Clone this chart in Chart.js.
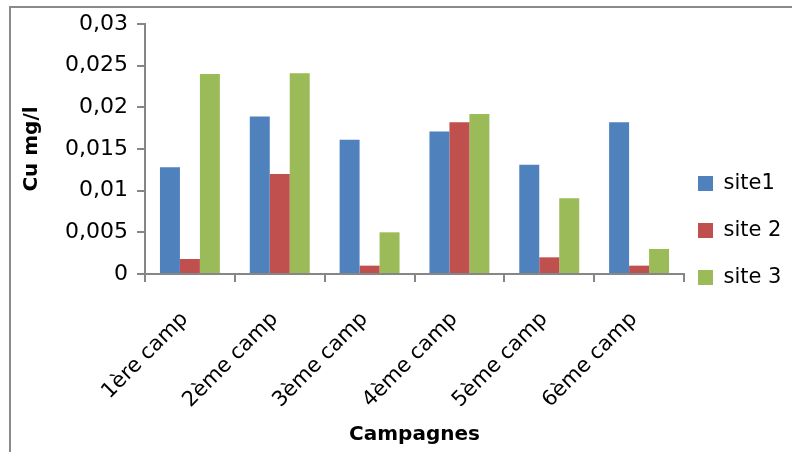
<!DOCTYPE html>
<html>
<head>
<meta charset="utf-8">
<script src="https://cdn.jsdelivr.net/npm/chart.js@4"></script>
<style>
  body { margin: 0; background: #fff; overflow: hidden; }
  #frame {
    position: absolute; left: 9px; top: 6px;
    width: 1000px; height: 1000px;
    border: 2px solid #8a8a8a;
  }
  #cuChart { position: absolute; left: 0; top: 0; }
</style>
</head>
<body>
<div id="frame"></div>
<canvas id="cuChart" width="792" height="452"></canvas>
<script>
const campagnes = ['1ère camp', '2ème camp', '3ème camp', '4ème camp', '5ème camp', '6ème camp'];
const site1 = [0.0128, 0.0189, 0.0161, 0.0171, 0.0131, 0.0182];
const site2 = [0.0018, 0.012, 0.001, 0.0182, 0.002, 0.001];
const site3 = [0.024, 0.0241, 0.005, 0.0192, 0.0091, 0.003];
const yTicks = [0, 0.005, 0.01, 0.015, 0.02, 0.025, 0.03];

const axisGray = '#868686';
const font = 'DejaVu Sans';

// pull the legend a little closer to the plot
const legendNudge = {
  id: 'legendNudge',
  afterLayout(chart) {
    const l = chart.legend;
    l.left -= 12; l.right -= 12;
    l.top -= 5; l.bottom -= 5;
  }
};

const ctx = document.getElementById('cuChart').getContext('2d');

new Chart(ctx, {
  type: 'bar',
  data: {
    labels: campagnes,
    datasets: [
      { label: 'site1', data: site1, backgroundColor: '#4F81BD' },
      { label: 'site 2', data: site2, backgroundColor: '#C0504D' },
      { label: 'site 3', data: site3, backgroundColor: '#9BBB59' }
    ]
  },
  options: {
    responsive: false,
    devicePixelRatio: 1,
    animation: false,
    layout: { padding: { left: 14, top: 24, right: 0, bottom: 5 } },
    datasets: { bar: { categoryPercentage: 0.667, barPercentage: 1 } },
    plugins: {
      tooltip: { enabled: false },
      legend: {
        position: 'right',
        maxWidth: 108,
        labels: {
          boxWidth: 15,
          boxHeight: 15,
          padding: 26,
          color: '#000',
          font: { family: font, size: 21 }
        }
      }
    },
    scales: {
      x: {
        grid: {
          drawOnChartArea: false,
          drawTicks: true,
          tickLength: 8,
          color: axisGray,
          lineWidth: 2
        },
        border: { color: axisGray, width: 2 },
        ticks: {
          color: '#000',
          font: { family: font, size: 21 },
          minRotation: 45,
          maxRotation: 45,
          padding: 25,
          labelOffset: -5
        },
        title: {
          display: true,
          text: 'Campagnes',
          color: '#000',
          font: { family: font, size: 20, weight: 'bold' },
          padding: 0
        },
        afterFit(scale) { scale.height = 173; }
      },
      y: {
        min: 0,
        max: 0.03,
        grid: {
          drawOnChartArea: false,
          drawTicks: true,
          tickLength: 8,
          color: axisGray,
          lineWidth: 2
        },
        border: { color: axisGray, width: 2 },
        afterBuildTicks(scale) {
          scale.ticks = yTicks.map(v => ({ value: v }));
        },
        ticks: {
          color: '#000',
          font: { family: font, size: 22 },
          padding: 9,
          callback: v => String(Number(v.toFixed(3))).replace('.', ',')
        },
        title: {
          display: true,
          text: 'Cu mg/l',
          color: '#000',
          font: { family: font, size: 20, weight: 'bold' },
          padding: { top: 6, bottom: 0 }
        },
        afterFit(scale) { scale.width = 131; }
      }
    }
  },
  plugins: [legendNudge]
});
</script>
</body>
</html>
